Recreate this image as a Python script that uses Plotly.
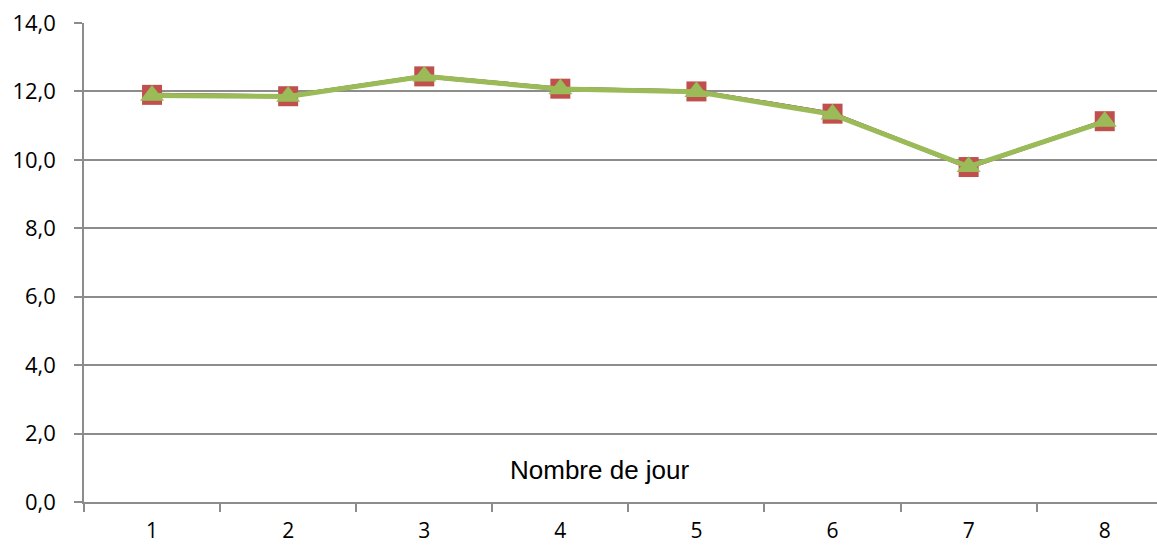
import plotly.graph_objects as go

days = [1, 2, 3, 4, 5, 6, 7, 8]
serie_bleue = [11.9, 11.86, 12.44, 12.08, 12.0, 11.35, 9.79, 11.13]
serie_rouge = [11.9, 11.86, 12.44, 12.08, 12.0, 11.35, 9.79, 11.13]
serie_verte = [11.88, 11.85, 12.44, 12.07, 11.99, 11.33, 9.8, 11.12]
y_ticks = [0, 2, 4, 6, 8, 10, 12, 14]

fig = go.Figure()
fig.add_trace(go.Scatter(x=days, y=serie_bleue, mode="lines+markers",
                         line=dict(color="#4F81BD", width=4),
                         marker=dict(symbol="diamond", size=14, color="#4F81BD")))
fig.add_trace(go.Scatter(x=days, y=serie_rouge, mode="lines+markers",
                         line=dict(color="#C0504D", width=4),
                         marker=dict(symbol="square", size=20, color="#C0504D")))
fig.add_trace(go.Scatter(x=days, y=serie_verte, mode="lines+markers",
                         line=dict(color="#9BBB59", width=5),
                         marker=dict(symbol="triangle-up", size=21, color="#9BBB59")))

fig.add_annotation(text="Nombre de jour", x=4.29, y=0.95, xref="x", yref="y",
                   showarrow=False, font=dict(size=26, color="#000000",
                                              family="Liberation Sans"))

fig.update_layout(
    width=1157, height=545,
    margin=dict(l=84, r=0, t=23, b=43),
    paper_bgcolor="white", plot_bgcolor="white",
    showlegend=False,
    separators=", ",
    font=dict(family="Open Sans", size=22, color="#000000"),
)
fig.update_xaxes(
    range=[0.5, 8.384], tickvals=days, ticktext=[str(d) for d in days],
    ticks="", showgrid=False, showline=True, linecolor="#8c8c8c", linewidth=1.5,
    ticklabelstandoff=9, tickfont=dict(size=21), zeroline=False, automargin=False,
    minor=dict(tick0=0.5, dtick=1, ticks="outside", ticklen=8,
               tickcolor="#8c8c8c", tickwidth=1.5, showgrid=False),
)
fig.update_yaxes(
    range=[0, 14], tickvals=y_ticks, tickformat=".1f",
    ticks="outside", ticklen=8, tickcolor="#8c8c8c", tickwidth=1.5,
    showgrid=True, gridcolor="#8c8c8c", gridwidth=1.5,
    showline=True, linecolor="#8c8c8c", linewidth=1.5, zeroline=False,
    ticklabelstandoff=14, automargin=False,
)

fig.write_html("out.html", config={"displayModeBar": False},
               post_script="document.body.style.margin='0';")
